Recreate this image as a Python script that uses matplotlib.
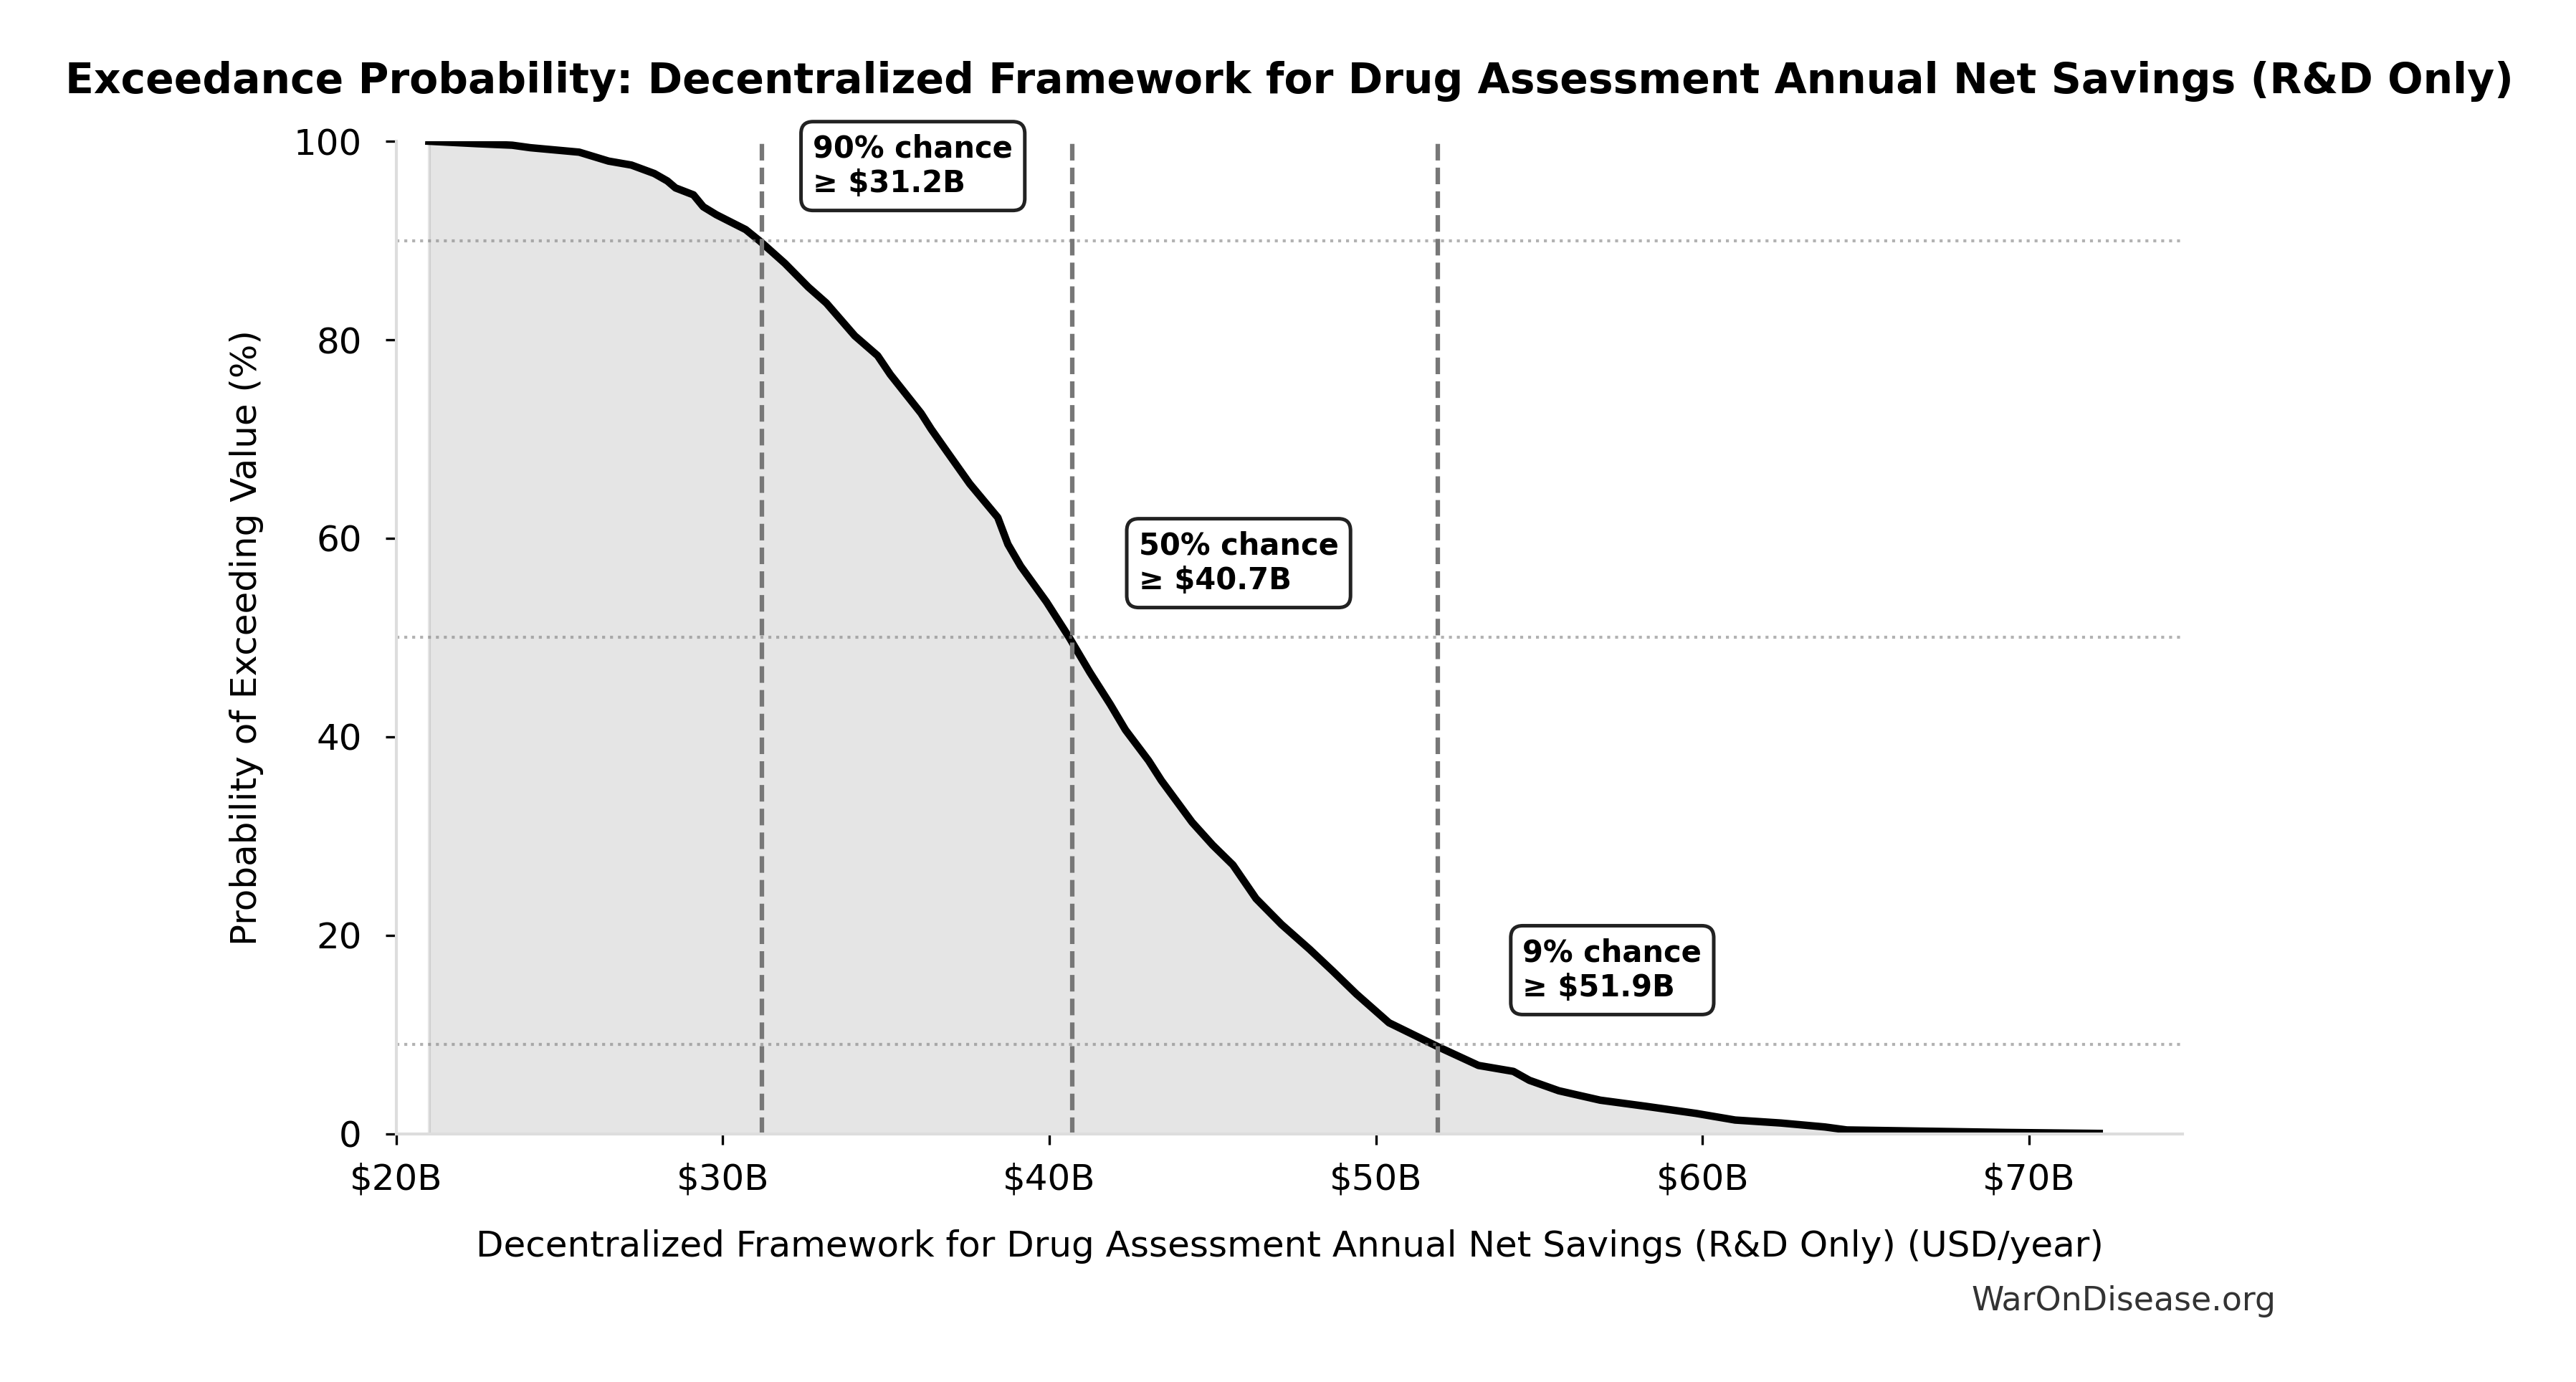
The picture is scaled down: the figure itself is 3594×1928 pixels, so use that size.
import numpy as np
import matplotlib
matplotlib.use("Agg")
import matplotlib.pyplot as plt
from matplotlib.ticker import FuncFormatter

# exceedance curve ($B, % of runs >= value)
savings = [21.0, 22.5, 23.55, 24.1, 25.6, 26.5, 27.2, 27.9, 28.3, 28.55, 29.1, 29.4,
           29.8, 30.7, 31.15, 31.9, 32.62, 33.17, 34.04, 34.74, 35.13, 36.07, 36.38,
           36.85, 37.56, 38.42, 38.73, 39.12, 39.91, 40.61, 41.24, 41.86, 42.33, 43.04,
           43.43, 43.9, 44.37, 45.0, 45.62, 46.33, 47.11, 47.97, 48.68, 49.4, 50.4,
           50.99, 51.89, 53.14, 54.21, 54.7, 55.6, 56.87, 58.23, 59.8, 61.0, 62.4,
           63.75, 64.42, 66.38, 69.3, 72.15]
prob = [100.0, 99.75, 99.6, 99.35, 98.9, 98.0, 97.6, 96.75, 96.0, 95.3, 94.6, 93.4,
        92.6, 91.1, 89.9, 87.7, 85.3, 83.7, 80.4, 78.4, 76.5, 72.6, 71.0,
        68.8, 65.5, 62.1, 59.4, 57.2, 53.6, 50.0, 46.5, 43.3, 40.7, 37.6,
        35.6, 33.5, 31.4, 29.1, 27.1, 23.7, 21.1, 18.6, 16.4, 14.1, 11.2,
        10.25, 8.8, 6.9, 6.3, 5.4, 4.35, 3.4, 2.8, 2.07, 1.4, 1.1,
        0.7, 0.4, 0.3, 0.15, 0.05]

# marked thresholds
mark_pct = [90, 50, 9]
mark_val = [31.2, 40.7, 51.9]

x_ticks = [20, 30, 40, 50, 60, 70]
y_ticks = [0, 20, 40, 60, 80, 100]

title = "Exceedance Probability: Decentralized Framework for Drug Assessment Annual Net Savings (R&D Only)"
xlab = "Decentralized Framework for Drug Assessment Annual Net Savings (R&D Only) (USD/year)"
ylab = "Probability of Exceeding Value (%)"

plt.rcParams['font.family'] = ['DejaVu Sans']

fig = plt.figure(figsize=(3595 / 300, 1928 / 300), dpi=300)
ax = fig.add_axes([0.1538, 0.1795, 0.6932, 0.7183])

ax.fill_between(savings, prob, 0, color='gray', alpha=0.2)
ax.plot(savings, prob, color='black', lw=2.5)

for p, v in zip(mark_pct, mark_val):
    ax.axhline(p, color='gray', ls=':', lw=1, alpha=0.6)
    ax.axvline(v, color='#777777', ls='--', lw=1.5)
    ax.text(v * 1.05, p + 7.5, f"{p}% chance\n≥ ${v:.1f}B", fontsize=10,
            fontweight='bold', ha='left', va='center', clip_on=False,
            bbox=dict(boxstyle='round,pad=0.4', facecolor='white',
                      edgecolor='#222222', lw=1.2))

ax.set_xlim(20, 74.7)
ax.set_ylim(0, 100)
ax.set_xticks(x_ticks)
ax.set_yticks(y_ticks)
ax.xaxis.set_major_formatter(FuncFormatter(lambda v, pos: f"${v:.0f}B"))
ax.tick_params(labelsize=12)
ax.tick_params(axis='x', pad=6)
ax.tick_params(axis='y', pad=8)

for s in ['top', 'right']:
    ax.spines[s].set_visible(False)
for s in ['left', 'bottom']:
    ax.spines[s].set_color('#dddddd')
    ax.spines[s].set_linewidth(1)

ax.set_xlabel(xlab, fontsize=12, labelpad=11)
ax.set_ylabel(ylab, fontsize=12, labelpad=10)
ax.set_title(title, fontsize=14, fontweight='bold', pad=16)

fig.text(0.8834, 0.052, "WarOnDisease.org", fontsize=11, color='#333333',
         ha='right', va='baseline')

fig.savefig('out.png', dpi=300)
